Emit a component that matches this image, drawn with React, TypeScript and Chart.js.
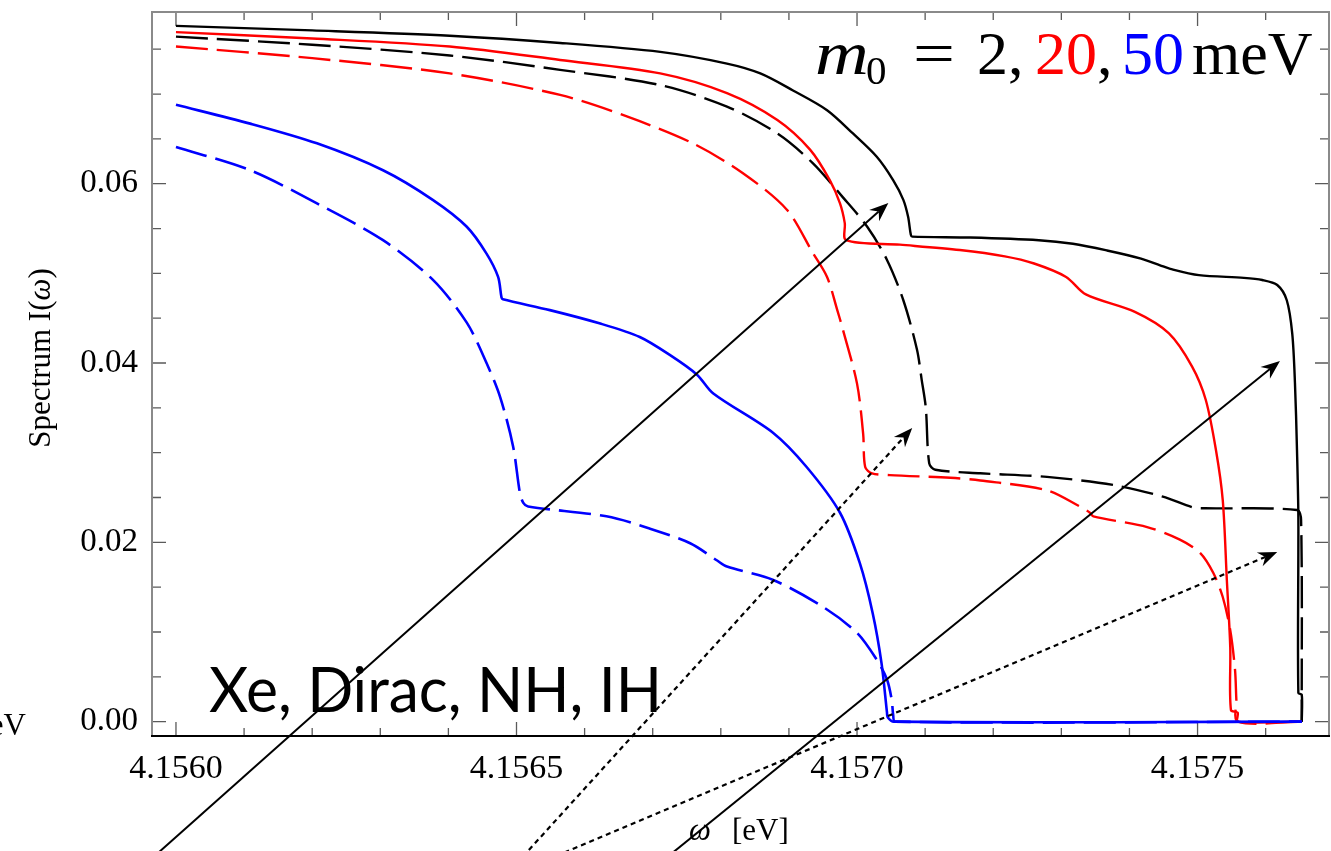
import React, { useEffect, useRef } from "react";
import { Chart, registerables } from "chart.js";

Chart.register(...registerables);

// ---------- axes ----------
const xRange = [4.1559648, 4.157693];
const yRange = [-0.0016, 0.07915];

const xTickValues = [4.156, 4.1561, 4.1562, 4.1563, 4.1564, 4.1565, 4.1566, 4.1567, 4.1568, 4.1569, 4.157, 4.1571, 4.1572, 4.1573, 4.1574, 4.1575, 4.1576];
const xTickLabels = ["4.1560", "4.1565", "4.1570", "4.1575"];
const yTickValues = [0, 0.005, 0.01, 0.015, 0.02, 0.025, 0.03, 0.035, 0.04, 0.045, 0.05, 0.055, 0.06, 0.065, 0.07, 0.075];
const yTickLabels = ["0.00", "0.02", "0.04", "0.06"];

// ---------- series (omega in eV, spectrum) ----------
// m0 = 2 meV, solid
const blackSolidX = [4.156000, 4.156200, 4.156402, 4.156564, 4.156711, 4.156809, 4.156858, 4.156906, 4.156956, 4.156994, 4.157029, 4.157053, 4.157068, 4.157075, 4.157079, 4.157081, 4.157166, 4.157267, 4.157317, 4.157367, 4.157417, 4.157445, 4.157460, 4.157502, 4.157568, 4.157595, 4.157617, 4.157631, 4.157639, 4.157643, 4.157646, 4.157648, 4.157648, 4.157653, 4.157653];
const blackSolidY = [0.0776, 0.0771, 0.0765, 0.0757, 0.0747, 0.0734, 0.0723, 0.0704, 0.0682, 0.0656, 0.0630, 0.0604, 0.0582, 0.0563, 0.0543, 0.0541, 0.0540, 0.0537, 0.0533, 0.05255, 0.05165, 0.0509, 0.0505, 0.0498, 0.0495, 0.04926, 0.0487, 0.0470, 0.0433, 0.0378, 0.0303, 0.0228, 0.0032, 0.0030, 0];
// m0 = 2 meV, dashed
const blackDashedX = [4.156000, 4.156200, 4.156402, 4.156564, 4.156711, 4.156809, 4.156883, 4.156935, 4.156979, 4.157015, 4.157044, 4.157068, 4.157088, 4.157095, 4.157101, 4.157106, 4.157115, 4.157181, 4.157279, 4.157376, 4.157449, 4.157493, 4.157511, 4.157646, 4.157652, 4.157653, 4.157653];
const blackDashedY = [0.0764, 0.0755, 0.0743, 0.0727, 0.0710, 0.0686, 0.0656, 0.0623, 0.0585, 0.0552, 0.0515, 0.0470, 0.0415, 0.0381, 0.0350, 0.0288, 0.0281, 0.0277, 0.0273, 0.0264, 0.0251, 0.0239, 0.0238, 0.0236, 0.0225, 0.0007, 0];
// m0 = 20 meV, solid
const redSolidX = [4.156000, 4.156200, 4.156402, 4.156564, 4.156711, 4.156809, 4.156883, 4.156931, 4.156960, 4.156975, 4.156982, 4.156984, 4.157063, 4.157151, 4.157217, 4.157260, 4.157307, 4.157336, 4.157408, 4.157458, 4.157492, 4.157512, 4.157527, 4.157537, 4.157543, 4.157548, 4.157549, 4.157559, 4.157559, 4.157653];
const redSolidY = [0.0769, 0.0762, 0.0753, 0.0738, 0.0723, 0.0701, 0.0671, 0.0638, 0.0604, 0.0578, 0.0556, 0.0537, 0.0532, 0.0526, 0.0519, 0.0511, 0.0496, 0.04765, 0.0457, 0.0433, 0.0396, 0.0359, 0.0303, 0.0247, 0.0158, 0.0083, 0.0013, 0.0010, 0, 0];
// m0 = 20 meV, dashed
const redDashedX = [4.156000, 4.156200, 4.156402, 4.156564, 4.156662, 4.156759, 4.156832, 4.156897, 4.156935, 4.156956, 4.156971, 4.156979, 4.157000, 4.157009, 4.157012, 4.157022, 4.157048, 4.157137, 4.157181, 4.157279, 4.157327, 4.157342, 4.157347, 4.157426, 4.157474, 4.157504, 4.157523, 4.157537, 4.157548, 4.157555, 4.157557, 4.157559, 4.157653];
const redDashedY = [0.0753, 0.0740, 0.0723, 0.0699, 0.0675, 0.0645, 0.0612, 0.0571, 0.0523, 0.0496, 0.0459, 0.0438, 0.0377, 0.0321, 0.0284, 0.0277, 0.0275, 0.0272, 0.0269, 0.0258, 0.0240, 0.0233, 0.0229, 0.0217, 0.0203, 0.0188, 0.0166, 0.0139, 0.0102, 0.0058, 0.0024, 0, 0];
// m0 = 50 meV, solid
const blueSolidX = [4.156000, 4.156109, 4.156207, 4.156304, 4.156377, 4.156427, 4.156456, 4.156473, 4.156478, 4.156480, 4.156549, 4.156623, 4.156681, 4.156725, 4.156765, 4.156789, 4.156877, 4.156926, 4.156975, 4.157004, 4.157023, 4.157036, 4.157044, 4.157045, 4.157054, 4.157653];
const blueSolidY = [0.0688, 0.0667, 0.0645, 0.0615, 0.0582, 0.0552, 0.0522, 0.0496, 0.0473, 0.0471, 0.0459, 0.0444, 0.0429, 0.0409, 0.0387, 0.0366, 0.0322, 0.0284, 0.0233, 0.0177, 0.0121, 0.0065, 0.0010, 0.0005, 0, 0];
// m0 = 50 meV, dashed
const blueDashedX = [4.156000, 4.156109, 4.156207, 4.156304, 4.156377, 4.156427, 4.156456, 4.156476, 4.156495, 4.156505, 4.156510, 4.156517, 4.156632, 4.156693, 4.156755, 4.156794, 4.156809, 4.156877, 4.156950, 4.157000, 4.157029, 4.157044, 4.157051, 4.157053, 4.157056, 4.157653];
const blueDashedY = [0.0641, 0.0615, 0.0578, 0.0537, 0.0493, 0.0445, 0.0400, 0.0362, 0.0307, 0.0255, 0.0244, 0.0240, 0.0229, 0.0216, 0.0199, 0.0180, 0.0173, 0.0158, 0.0128, 0.0099, 0.0069, 0.0047, 0.0024, 0.0008, 0, 0];

// ---------- annotation arrows [x0, y0, x1, y1] in data units ----------
const solidArrows = [
  [4.1559457, -0.01654, 4.157046, 0.05785],
  [4.156698, -0.01654, 4.157621, 0.04023],
];
const dottedArrows = [
  [4.1564915, -0.01654, 4.157081, 0.03275],
  [4.1565095, -0.01654, 4.157617, 0.01893],
];

const SERIF = '"Liberation Serif", "Times New Roman", serif';

const labelFor = (labels: string[], v: number) =>
  labels.find((l) => Math.abs(parseFloat(l) - v) < 1e-9) ?? "";

const series = (xs: number[], ys: number[], color: string, dashed: boolean, width: number) => ({
  data: xs.map((x, i) => ({ x, y: ys[i] })),
  borderColor: color,
  backgroundColor: color,
  borderWidth: width,
  borderDash: dashed ? [32, 9] : [],
  borderCapStyle: "butt",
  borderJoinStyle: "round",
  pointRadius: 0,
  tension: 0.3,
  fill: false,
});

function drawArrow(ctx: CanvasRenderingContext2D, x0: number, y0: number, x1: number, y1: number, dotted: boolean) {
  const dx = x1 - x0, dy = y1 - y0;
  const len = Math.hypot(dx, dy);
  const ux = dx / len, uy = dy / len;
  const nx = -uy, ny = ux;
  const L = 19, W = 7.5;
  const bx = x1 - ux * L, by = y1 - uy * L;
  const mx = x1 - ux * L * 0.68, my = y1 - uy * L * 0.68;
  ctx.save();
  ctx.strokeStyle = "#000";
  ctx.fillStyle = "#000";
  ctx.lineWidth = dotted ? 2.2 : 2;
  ctx.setLineDash(dotted ? [5, 4] : []);
  ctx.beginPath();
  ctx.moveTo(x0, y0);
  ctx.lineTo(mx, my);
  ctx.stroke();
  ctx.setLineDash([]);
  ctx.beginPath();
  ctx.moveTo(x1, y1);
  ctx.lineTo(bx + nx * W, by + ny * W);
  ctx.lineTo(mx, my);
  ctx.lineTo(bx - nx * W, by - ny * W);
  ctx.closePath();
  ctx.fill();
  ctx.restore();
}

const framePlugin = {
  id: "frameTicks",
  beforeDatasetsDraw(chart: any) {
    const { ctx, chartArea, scales } = chart;
    const { left, right, top, bottom } = chartArea;
    const x = scales.x, y = scales.y;
    ctx.save();
    ctx.strokeStyle = "#5a5a5a";
    ctx.lineWidth = 1.3;
    ctx.beginPath();
    for (const v of xTickValues) {
      const px = x.getPixelForValue(v);
      const l = labelFor(xTickLabels, v) ? 14 : 8;
      ctx.moveTo(px, bottom);
      ctx.lineTo(px, bottom - l);
      ctx.moveTo(px, top);
      ctx.lineTo(px, top + l);
    }
    for (const v of yTickValues) {
      const py = y.getPixelForValue(v);
      const l = labelFor(yTickLabels, v) ? 14 : 9;
      ctx.moveTo(left, py);
      ctx.lineTo(left + l, py);
      ctx.moveTo(right, py);
      ctx.lineTo(right - l, py);
    }
    ctx.stroke();
    // frame
    ctx.lineWidth = 2;
    ctx.strokeStyle = "#8a8a8a";
    ctx.beginPath();
    ctx.moveTo(left, bottom);
    ctx.lineTo(left, top);
    ctx.lineTo(right, top);
    ctx.lineTo(right, bottom);
    ctx.stroke();
    ctx.strokeStyle = "#000";
    ctx.beginPath();
    ctx.moveTo(left - 1, bottom);
    ctx.lineTo(right + 1, bottom);
    ctx.stroke();
    ctx.restore();
  },
};

const overlayPlugin = {
  id: "overlay",
  afterDatasetsDraw(chart: any) {
    const { ctx, scales } = chart;
    const x = scales.x, y = scales.y;
    for (const a of solidArrows) {
      drawArrow(ctx, x.getPixelForValue(a[0]), y.getPixelForValue(a[1]), x.getPixelForValue(a[2]), y.getPixelForValue(a[3]), false);
    }
    for (const a of dottedArrows) {
      drawArrow(ctx, x.getPixelForValue(a[0]), y.getPixelForValue(a[1]), x.getPixelForValue(a[2]), y.getPixelForValue(a[3]), true);
    }
  },
  afterDraw(chart: any) {
    const { ctx } = chart;
    ctx.save();
    ctx.textBaseline = "alphabetic";
    ctx.textAlign = "left";

    // y axis title
    ctx.save();
    ctx.translate(50, 358);
    ctx.rotate(-Math.PI / 2);
    const yParts: [string, string][] = [
      ["Spectrum I(", `31px ${SERIF}`],
      ["\u03c9", `italic 31px ${SERIF}`],
      [")", `31px ${SERIF}`],
    ];
    let tot = 0;
    for (const [s, f] of yParts) { ctx.font = f; tot += ctx.measureText(s).width; }
    let cx = -tot / 2;
    ctx.fillStyle = "#000";
    for (const [s, f] of yParts) { ctx.font = f; ctx.fillText(s, cx, 0); cx += ctx.measureText(s).width; }
    ctx.restore();

    // x axis title
    ctx.fillStyle = "#000";
    ctx.font = `italic 31px ${SERIF}`;
    ctx.fillText("\u03c9", 689, 840);
    ctx.font = `31px ${SERIF}`;
    ctx.fillText("[eV]", 732, 840);

    // clipped unit text at the left edge
    ctx.textAlign = "right";
    ctx.fillText("eV", 26, 735);
    ctx.textAlign = "left";

    // m0 = 2, 20, 50 meV
    const big = `62px ${SERIF}`;
    ctx.fillStyle = "#000";
    ctx.save();
    ctx.translate(815, 74);
    ctx.scale(1.2, 1);
    ctx.font = `italic ${big}`;
    ctx.fillText("m", 0, 0);
    ctx.restore();
    ctx.font = `41px ${SERIF}`;
    ctx.fillText("0", 866, 84);
    ctx.font = big;
    ctx.save();
    ctx.translate(913, 74);
    ctx.scale(1.2, 1);
    ctx.fillText("=", 0, 0);
    ctx.restore();
    ctx.fillText("2,", 977, 74);
    ctx.fillStyle = "#ff0000";
    ctx.fillText("20", 1035, 74);
    ctx.fillStyle = "#000";
    ctx.fillText(",", 1097, 74);
    ctx.fillStyle = "#0000ff";
    ctx.fillText("50", 1122, 74);
    ctx.fillStyle = "#000";
    ctx.fillText("meV", 1192, 74);

    // Xe, Dirac, NH, IH
    const label = "Xe, Dirac, NH, IH";
    ctx.font = `62px Lato, "Open Sans", sans-serif`;
    const w = ctx.measureText(label).width;
    ctx.save();
    ctx.translate(209, 712);
    ctx.scale(453 / w, 1);
    ctx.fillText(label, 0, 0);
    ctx.restore();

    ctx.restore();
  },
};

export default function App() {
  const ref = useRef<HTMLCanvasElement>(null);
  useEffect(() => {
    if (!ref.current) return;
    const chart = new Chart(ref.current, {
      type: "line",
      data: {
        datasets: [
          series(blueSolidX, blueSolidY, "#0000ff", false, 2.6),
          series(blueDashedX, blueDashedY, "#0000ff", true, 2.6),
          series(redSolidX, redSolidY, "#ff0000", false, 2.4),
          series(redDashedX, redDashedY, "#ff0000", true, 2.4),
          series(blackSolidX, blackSolidY, "#000000", false, 2.4),
          series(blackDashedX, blackDashedY, "#000000", true, 2.4),
        ] as any,
      },
      options: {
        responsive: false,
        maintainAspectRatio: false,
        animation: false,
        events: [],
        layout: { padding: { top: 12, right: 2, left: 0, bottom: 0 } },
        plugins: { legend: { display: false }, tooltip: { enabled: false }, title: { display: false } },
        scales: {
          x: {
            type: "linear",
            min: xRange[0],
            max: xRange[1],
            grid: { display: false, drawTicks: false },
            border: { display: false },
            afterBuildTicks: (s: any) => { s.ticks = xTickValues.map((value) => ({ value })); },
            afterFit: (s: any) => { s.height = 115; s.paddingLeft = 0; s.paddingRight = 0; },
            ticks: {
              autoSkip: false,
              maxRotation: 0,
              minRotation: 0,
              padding: 13,
              color: "#000",
              font: { family: SERIF, size: 34 },
              callback: (v: any) => labelFor(xTickLabels, Number(v)),
            },
          },
          y: {
            type: "linear",
            min: yRange[0],
            max: yRange[1],
            grid: { display: false, drawTicks: false },
            border: { display: false },
            afterBuildTicks: (s: any) => { s.ticks = yTickValues.map((value) => ({ value })); },
            afterFit: (s: any) => { s.width = 152; s.paddingTop = 0; s.paddingBottom = 0; },
            ticks: {
              autoSkip: false,
              padding: 14,
              color: "#000",
              font: { family: SERIF, size: 33 },
              callback: (v: any) => labelFor(yTickLabels, Number(v)),
            },
          },
        },
      } as any,
      plugins: [framePlugin, overlayPlugin],
    });
    return () => chart.destroy();
  }, []);
  return (
    <div style={{ position: "absolute", left: 0, top: 0, width: 1331, height: 851, background: "#fff" }}>
      <canvas ref={ref} width={1331} height={851} style={{ display: "block" }} />
    </div>
  );
}
